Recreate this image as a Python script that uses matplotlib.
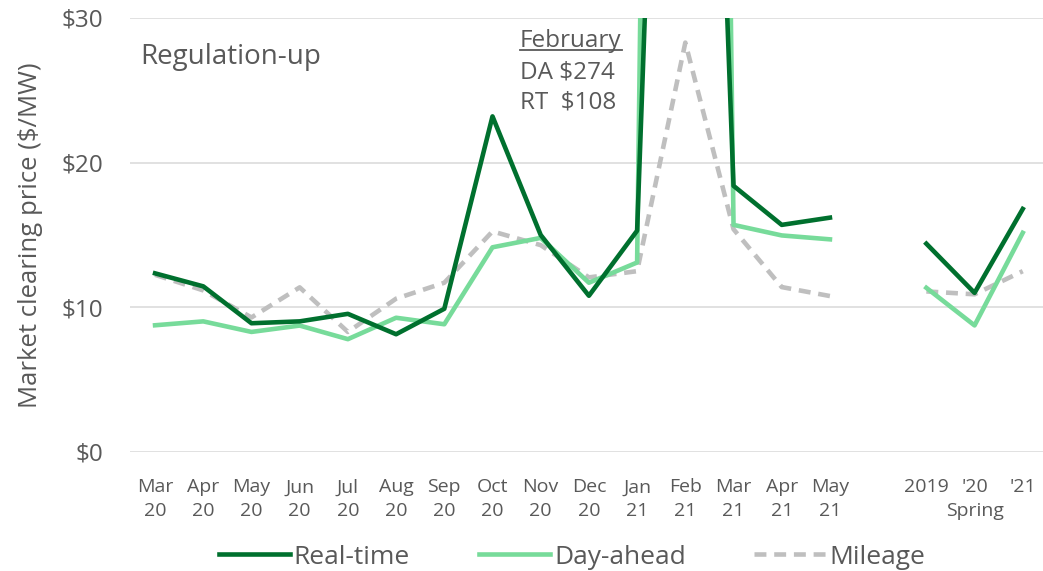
import matplotlib
matplotlib.use("Agg")
import matplotlib.pyplot as plt
import numpy as np

months = ["Mar\n20", "Apr\n20", "May\n20", "Jun\n20", "Jul\n20", "Aug\n20", "Sep\n20",
          "Oct\n20", "Nov\n20", "Dec\n20", "Jan\n21", "Feb\n21", "Mar\n21", "Apr\n21", "May\n21"]
spring = ["2019", "'20\nSpring", "'21"]

rt_monthly = [12.35, 11.45, 8.9, 9.03, 9.55, 8.14, 9.9, 23.2, 15.0, 10.8, 15.3, 108, 18.4, 15.7, 16.2]
da_monthly = [8.76, 9.03, 8.3, 8.74, 7.8, 9.28, 8.83, 14.15, 14.8, 11.7, 13.1, 274, 15.7, 14.97, 14.7]
mi_monthly = [12.25, 11.17, 9.3, 11.38, 8.3, 10.6, 11.7, 15.25, 14.3, 12.07, 12.5, 28.3, 15.4, 11.4, 10.78]

rt_spring = [14.4, 11.0, 16.8]
da_spring = [11.35, 8.75, 15.15]
mi_spring = [11.1, 10.9, 12.5]

RT_C = "#00702E"
DA_C = "#77DB9A"
MI_C = "#BFBFBF"
TXT = "#595959"
FONT = "Open Sans"

plt.rcParams['font.family'] = [FONT, 'DejaVu Sans']

fig = plt.figure(figsize=(10.43, 5.71), dpi=100)
ax = fig.add_axes([130/1043, 1 - 452/571, 1 - 130/1043, (452 - 18)/571])

xm = np.arange(len(months))
xs = np.arange(len(spring)) + len(months) + 1

lw = 3.3
dash = (0, (2.6, 1.7))
ax.plot(xm, rt_monthly, color=RT_C, lw=lw, label="Real-time", zorder=4)
ax.plot(xm, da_monthly, color=DA_C, lw=lw, label="Day-ahead", zorder=3)
ax.plot(xm, mi_monthly, color=MI_C, lw=lw, ls=dash, label="Mileage", zorder=2)
ax.plot(xs, rt_spring, color=RT_C, lw=lw, zorder=4)
ax.plot(xs, da_spring, color=DA_C, lw=lw, zorder=3)
ax.plot(xs, mi_spring, color=MI_C, lw=lw, ls=dash, zorder=2)

ax.set_ylim(0, 30)
ax.set_xlim(-0.52, 18.42)
ax.set_yticks([0, 10, 20, 30])
ax.set_yticklabels(["$0", "$10", "$20", "$30"])
ax.set_xticks(list(xm) + list(xs))
ax.set_xticklabels(months + spring)
ax.tick_params(axis='y', length=0, labelsize=17.5, labelcolor=TXT, pad=19)
ax.tick_params(axis='x', length=0, labelsize=14, labelcolor=TXT, pad=19)
for lab in ax.get_xticklabels():
    lab.set_linespacing(1.42)
ax.grid(axis='y', color="#D9D9D9", lw=1.1)
ax.set_axisbelow(True)
for s in ax.spines.values():
    s.set_visible(False)
ax.set_ylabel("Market clearing price ($/MW)", fontsize=18.5, color=TXT)
ax.yaxis.set_label_coords((43 - 130) / 913, 0.5)

ax.text(140/1043, 1 - 57/571, "Regulation-up", transform=fig.transFigure,
        fontsize=20, color=TXT, va='center', ha='left')

t1 = fig.text(520/1043, 1 - 41/571, "February", fontsize=17.5, color=TXT, va='center', ha='left')
fig.text(520/1043, 1 - 73/571, "DA $274", fontsize=17.5, color=TXT, va='center', ha='left')
fig.text(520/1043, 1 - 103/571, "RT  $108", fontsize=17.5, color=TXT, va='center', ha='left')

fig.canvas.draw()
bb = t1.get_window_extent()
inv = fig.transFigure.inverted()
(x0, y0), (x1, y1) = inv.transform([[bb.x0, bb.y0], [bb.x1, bb.y1]])
fig.add_artist(plt.Line2D([x0, x1], [y0 + 0.006, y0 + 0.006], transform=fig.transFigure,
                          color=TXT, lw=1.3))

leg = ax.legend(loc='center', bbox_to_anchor=(572/1043, 1 - 557/571),
                bbox_transform=fig.transFigure, ncol=3, frameon=False,
                fontsize=19, handlelength=2.7, handletextpad=0.15, columnspacing=2.6,
                labelcolor=TXT, borderpad=0)

fig.savefig("out.png", dpi=100)
